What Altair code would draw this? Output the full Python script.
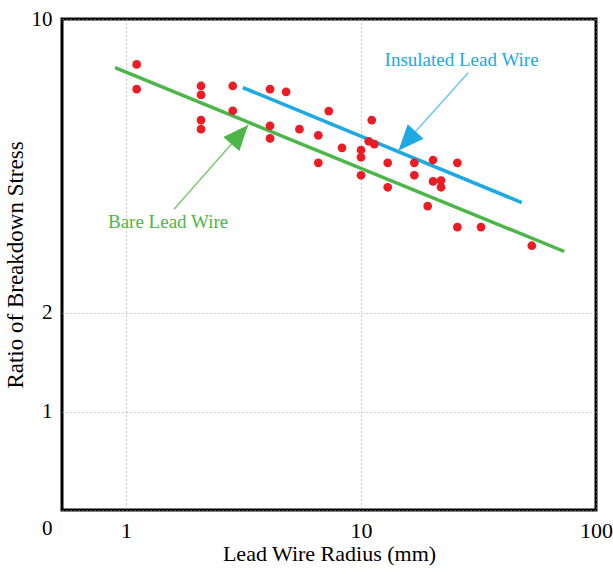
import altair as alt
import pandas as pd

# ---- data ----
radius = [1.11, 1.11, 2.085, 2.085, 2.085, 2.085, 2.845, 2.845, 4.10, 4.80, 4.10, 4.10,
          5.47, 7.29, 6.58, 6.58, 8.30, 11.11, 10.0, 10.0, 10.0, 10.78, 11.39, 12.99,
          12.99, 16.86, 16.86, 20.25, 25.7, 20.25, 21.9, 21.9, 19.22, 25.7, 32.4, 53.3]
ratio = [7.80, 6.81, 6.93, 6.60, 5.75, 5.47, 6.93, 6.05, 6.81, 6.71, 5.57, 5.20,
         5.47, 6.04, 5.29, 4.55, 4.94, 5.75, 4.88, 4.69, 4.25, 5.12, 5.04, 4.55,
         3.98, 4.55, 4.25, 4.62, 4.55, 4.11, 4.13, 3.98, 3.59, 3.20, 3.20, 2.89]

fit_names = ["Bare Lead Wire", "Insulated Lead Wire"]
fit_x_start = [0.898, 3.14]
fit_x_end = [73.3, 48.3]
fit_y_start = [7.66, 6.87]
fit_y_end = [2.80, 3.66]
fit_colors = ["#4cb748", "#1da9e1"]
arrow_colors = ["#7dcb71", "#6cc8ef"]

label_x = [1.51, 26.8]
label_y = [3.29, 7.99]
arrow_x_start = [1.60, 28.6]
arrow_y_start = [3.53, 7.45]
arrow_x_tip = [3.31, 14.44]
arrow_y_tip = [5.60, 4.87]
arrow_angle = [41.4, 222.2]

x_domain = [0.534, 100]
x_ticks = [1, 10, 100]
y_domain = [0.68, 10]
y_tick_values = [0.68, 1.164, 2, 10]
y_tick_labels = ["0", "1", "2", "10"]

FONT = "Liberation Serif"

pts = pd.DataFrame({"radius": radius, "ratio": ratio})
fits = pd.DataFrame({"name": fit_names, "x": fit_x_start, "x2": fit_x_end,
                     "y": fit_y_start, "y2": fit_y_end, "color": fit_colors})
ann = pd.DataFrame({"name": fit_names, "lx": label_x, "ly": label_y,
                    "ax": arrow_x_start, "ay": arrow_y_start,
                    "tx": arrow_x_tip, "ty": arrow_y_tip,
                    "angle": arrow_angle, "tcolor": fit_colors,
                    "acolor": arrow_colors})

label_expr = " : ".join(
    f"abs(datum.value - {v}) < 0.01 ? '{l}'" for v, l in zip(y_tick_values, y_tick_labels)
) + " : ''"

x_scale = alt.Scale(type="log", domain=x_domain, nice=False)
y_scale = alt.Scale(type="log", domain=y_domain, nice=False)

x_axis = alt.Axis(values=x_ticks, format="~g", title="Lead Wire Radius (mm)",
                  grid=True, gridDash=[1, 3], gridColor="#999999", gridWidth=1,
                  ticks=False, domain=False, labelFont=FONT, labelFontSize=22,
                  labelColor="black", labelPadding=10, labelFlush=False,
                  titleFont=FONT, titleFontSize=22, titleFontWeight="normal",
                  titleColor="black", titlePadding=2, labelOverlap=False)
y_axis = alt.Axis(values=y_tick_values, labelExpr=label_expr,
                  title="Ratio of Breakdown Stress",
                  grid=True, gridDash=[1, 3], gridColor="#999999", gridWidth=1,
                  ticks=False, domain=False, labelFont=FONT, labelFontSize=21,
                  labelColor="black", labelPadding=10, labelFlush=False,
                  labelOffset={"condition": {"test": "datum.value < 0.7", "value": 18}, "value": 0},
                  titleFont=FONT, titleFontSize=23, titleFontWeight="normal",
                  titleColor="black", titlePadding=4, labelOverlap=False)


def X(field):
    return alt.X(f"{field}:Q", scale=x_scale, axis=x_axis, title="Lead Wire Radius (mm)")


def Y(field):
    return alt.Y(f"{field}:Q", scale=y_scale, axis=y_axis, title="Ratio of Breakdown Stress")


fit_layer = alt.Chart(fits).mark_rule(strokeWidth=3.5, strokeCap="butt").encode(
    x=X("x"), x2="x2", y=Y("y"), y2="y2",
    color=alt.Color("color:N", scale=None))

arrow_lines = alt.Chart(ann).mark_rule(strokeWidth=1.5).encode(
    x=X("ax"), x2="tx", y=Y("ay"), y2="ty",
    color=alt.Color("acolor:N", scale=None))

arrow_heads = alt.Chart(ann).mark_point(
    shape="M0,0L-0.42,1L0.42,1Z", filled=True, size=2600, opacity=1, strokeWidth=0
).encode(
    x=X("tx"), y=Y("ty"),
    angle=alt.Angle("angle:Q", scale=None),
    color=alt.Color("tcolor:N", scale=None))

points = alt.Chart(pts).mark_circle(size=76, opacity=1, color="#ec1c24").encode(
    x=X("radius"), y=Y("ratio"))

labels = alt.Chart(ann).mark_text(font=FONT, fontSize=19, align="center",
                                  baseline="middle").encode(
    x=X("lx"), y=Y("ly"), text="name:N",
    color=alt.Color("tcolor:N", scale=None))

chart = alt.layer(fit_layer, arrow_lines, arrow_heads, points, labels).properties(
    width=534, height=491,
    autosize=alt.AutoSizeParams(type="none"),
    padding={"left": 62, "top": 19, "right": 17, "bottom": 64},
    background="white",
).configure_view(stroke="black", strokeWidth=3)

chart.save("out.html", embed_options={"renderer": "svg", "actions": False})
